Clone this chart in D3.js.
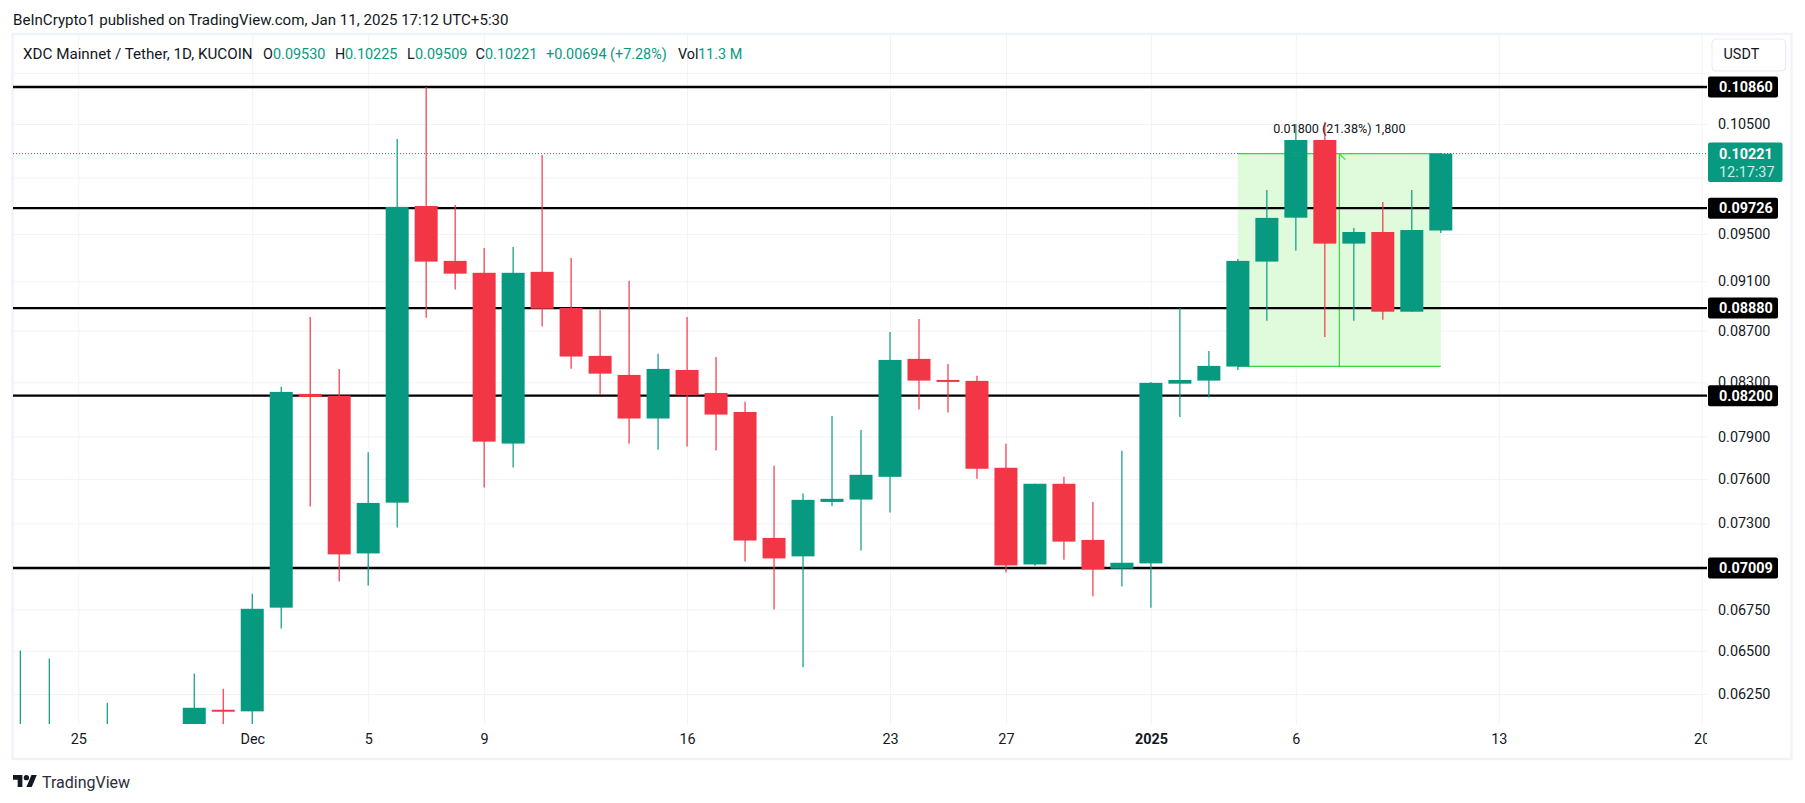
<!DOCTYPE html>
<html>
<head>
<meta charset="utf-8">
<script src="https://cdn.jsdelivr.net/npm/d3@7"></script>
<style>
  html, body { margin: 0; padding: 0; background: #fff; overflow: hidden; }
  svg { display: block; }
  text { font-family: Roboto, sans-serif; fill: #131722; }
</style>
</head>
<body>
<div id="chart"></div>
<script>
// candles
const days = ["2024-11-23","2024-11-24","2024-11-26","2024-11-29","2024-11-30","2024-12-01","2024-12-02","2024-12-03","2024-12-04","2024-12-05","2024-12-06","2024-12-07","2024-12-08","2024-12-09","2024-12-10","2024-12-11","2024-12-12","2024-12-13","2024-12-14","2024-12-15","2024-12-16","2024-12-17","2024-12-18","2024-12-19","2024-12-20","2024-12-21","2024-12-22","2024-12-23","2024-12-24","2024-12-25","2024-12-26","2024-12-27","2024-12-28","2024-12-29","2024-12-30","2024-12-31","2025-01-01","2025-01-02","2025-01-03","2025-01-04","2025-01-05","2025-01-06","2025-01-07","2025-01-08","2025-01-09","2025-01-10","2025-01-11"]
const opens = [.0590,.0590,.0590,.0602,.06161,.06152,.06761,.08213,.08199,.07103,.07439,.09745,.0927,.0917,.0785,.09178,.08881,.08502,.08356,.08031,.08394,.0822,.08079,.07204,.07084,.07444,.0746,.07616,.08479,.08318,.08311,.07679,.07032,.07568,.07191,.07005,.07039,.0829,.08313,.0842,.09264,.09642,.10348,.09417,.09517,.08851,.0953]
const highs = [.06502,.06455,.06201,.06367,.0628,.06847,.08266,.08809,.08402,.07789,.10358,.1086,.09754,.0938,.09388,.10209,.09295,.08865,.09103,.08518,.08809,.08494,.08154,.07693,.07501,.0805,.07948,.08689,.08793,.0844,.08349,.07848,.07568,.07616,.07444,.07799,.08303,.08881,.08541,.09287,.09888,.105,.10519,.09552,.09781,.09888,.10225]
const lows = [.0585,.0585,.0585,.0598,.0602,.0605,.06634,.07413,.06924,.06899,.07272,.08803,.09031,.07542,.07681,.08732,.08404,.08208,.07848,.07806,.07829,.07801,.07051,.06749,.06404,.07417,.07122,.07372,.08097,.08075,.07602,.06981,.07024,.07063,.06831,.06892,.06761,.08042,.08186,.08394,.08779,.09357,.0865,.08779,.08787,.08851,.09509]
const closes = [.0600,.0600,.0600,.06172,.0615,.06754,.08228,.0819,.07097,.07437,.09737,.09264,.09163,.07864,.0917,.08875,.08497,.08366,.08031,.08402,.08206,.0806,.07187,.07071,.07458,.07465,.0763,.08471,.08313,.08303,.07672,.07026,.07568,.0718,.07,.07043,.08296,.08318,.08425,.0927,.0964,.10348,.09417,.09517,.08851,.09534,.10221]

const levels = [0.1086, 0.09726, 0.0888, 0.082, 0.07009]
const gridPrices = [0.11, 0.105, 0.1, 0.095, 0.091, 0.087, 0.083, 0.079, 0.076, 0.073, 0.07, 0.0675, 0.065, 0.0625]
const labelPrices = [0.105, 0.095, 0.091, 0.087, 0.083, 0.079, 0.076, 0.073, 0.0675, 0.065, 0.0625]
const tickDays = ["2024-11-25","2024-12-01","2024-12-05","2024-12-09","2024-12-16","2024-12-23","2024-12-27","2025-01-01","2025-01-06","2025-01-13","2025-01-20"]
const tickNames = ["25","Dec","5","9","16","23","27","2025","6","13","20"]

const lastPrice = 0.10221
const measureFrom = "2025-01-04", measureTo = "2025-01-11"
const measureLow = 0.08421, measureHigh = 0.10221

const legendBits = [
  { x: 263, s: "O", c: "#131722" }, { x: 273, s: "0.09530", c: "#089981" },
  { x: 335, s: "H", c: "#131722" }, { x: 345, s: "0.10225", c: "#089981" },
  { x: 407, s: "L", c: "#131722" }, { x: 415, s: "0.09509", c: "#089981" },
  { x: 475.5, s: "C", c: "#131722" }, { x: 485, s: "0.10221", c: "#089981" },
  { x: 546, s: "+0.00694 (+7.28%)", c: "#089981" },
  { x: 678, s: "Vol", c: "#131722" }, { x: 698, s: "11.3 M", c: "#089981" }
]

const up = "#089981", down = "#f23645"
const gridColor = "#f0f3fa"
const parseDay = d3.utcParse("%Y-%m-%d")

const paneLeft = 13, paneRight = 1707, paneTop = 35, paneBottom = 724

const svg = d3.select("#chart").append("svg")
  .attr("width", 1805)
  .attr("height", 803)

svg.append("clipPath").attr("id", "pane").append("rect")
  .attr("x", paneLeft).attr("y", paneTop).attr("width", paneRight - paneLeft).attr("height", paneBottom - paneTop)
svg.append("clipPath").attr("id", "timeStrip").append("rect")
  .attr("x", paneLeft).attr("y", paneBottom).attr("width", paneRight - paneLeft).attr("height", 34)

const x = d3.scaleUtc()
  .domain([parseDay("2024-11-25"), parseDay("2025-01-20")])
  .range([78.3, 1701.7])

const y = d3.scaleLog()
  .domain([0.0625, 0.105])
  .range([694, 124])

// header
svg.append("text").attr("x", 13).attr("y", 25)
  .style("font-size", "15.1px")
  .text("BeInCrypto1 published on TradingView.com, Jan 11, 2025 17:12 UTC+5:30")

// frame
svg.append("rect")
  .attr("x", 12.5).attr("y", 34).attr("width", 1779).attr("height", 725)
  .attr("fill", "#fff").attr("stroke", gridColor).attr("stroke-width", 2.5)

const pane = svg.append("g").attr("clip-path", "url(#pane)")

// grid comes from the axes with long ticks
const gridY = pane.append("g")
  .attr("transform", `translate(${paneRight},0)`)
  .call(d3.axisLeft(y).tickValues(gridPrices).tickSize(paneRight - paneLeft).tickFormat(""))
gridY.select(".domain").remove()
gridY.selectAll("line").attr("stroke", gridColor)

const gridX = pane.append("g")
  .attr("transform", `translate(0,${paneBottom})`)
  .call(d3.axisTop(x).tickValues(tickDays.map(parseDay)).tickSize(paneBottom - paneTop).tickFormat(""))
gridX.select(".domain").remove()
gridX.selectAll("line").attr("stroke", gridColor)

// measure tool box, under the candles
const mx0 = x(parseDay(measureFrom)), mx1 = x(parseDay(measureTo))
const mxMid = (mx0 + mx1) / 2
pane.append("rect")
  .attr("x", mx0).attr("y", y(measureHigh))
  .attr("width", mx1 - mx0).attr("height", y(measureLow) - y(measureHigh))
  .attr("fill", "#dffbdc")

// last price dots
pane.append("line")
  .attr("x1", paneLeft).attr("x2", paneRight)
  .attr("y1", y(lastPrice)).attr("y2", y(lastPrice))
  .attr("stroke", up).attr("stroke-width", 1).attr("stroke-dasharray", "1 2")

// measure outline
const measureLines = [
  [mx0, y(measureHigh), mx1, y(measureHigh)],
  [mx0, y(measureLow), mx1, y(measureLow)],
  [mxMid, y(measureLow), mxMid, y(measureHigh)],
  [mxMid, y(measureHigh), mxMid + 6, y(measureHigh) + 6]
]
pane.selectAll(".measure")
  .data(measureLines)
  .enter()
  .append("line")
  .attr("class", "measure")
  .attr("x1", d => d[0]).attr("y1", d => d[1])
  .attr("x2", d => d[2]).attr("y2", d => d[3])
  .attr("stroke", "#3ed43a").attr("stroke-width", 1.2)

// horizontal levels
pane.selectAll(".level")
  .data(levels)
  .enter()
  .append("line")
  .attr("class", "level")
  .attr("x1", paneLeft).attr("x2", paneRight)
  .attr("y1", d => y(d)).attr("y2", d => y(d))
  .attr("stroke", "#000").attr("stroke-width", 2.4)

// candles
const candles = days.map((d, i) => ({
  day: parseDay(d), open: opens[i], high: highs[i], low: lows[i], close: closes[i]
}))
const colour = d => d.close >= d.open ? up : down

pane.selectAll(".wick")
  .data(candles)
  .enter()
  .append("line")
  .attr("class", "wick")
  .attr("x1", d => x(d.day)).attr("x2", d => x(d.day))
  .attr("y1", d => y(d.high)).attr("y2", d => y(d.low))
  .attr("stroke", colour).attr("stroke-width", 1.2)

pane.selectAll(".body")
  .data(candles)
  .enter()
  .append("rect")
  .attr("class", "body")
  .attr("x", d => x(d.day) - 11.5)
  .attr("width", 23)
  .attr("y", d => y(Math.max(d.open, d.close)))
  .attr("height", d => Math.abs(y(d.open) - y(d.close)))
  .attr("fill", colour)

pane.append("text")
  .attr("x", mxMid).attr("y", y(measureHigh) - 21)
  .attr("text-anchor", "middle")
  .style("font-size", "12.6px")
  .text("0.01800 (21.38%) 1,800")

// legend line
svg.append("text").attr("x", 23).attr("y", 59)
  .style("font-size", "15.2px")
  .text("XDC Mainnet / Tether, 1D, KUCOIN")

svg.selectAll(".legendBit")
  .data(legendBits)
  .enter()
  .append("text")
  .attr("class", "legendBit")
  .attr("x", d => d.x).attr("y", 59)
  .style("font-size", "14.4px")
  .style("fill", d => d.c)
  .text(d => d.s)

// price axis
const priceAxis = svg.append("g")
  .attr("transform", `translate(${paneRight},0)`)
  .call(d3.axisRight(y).tickValues(labelPrices).tickSize(0).tickPadding(11).tickFormat(d3.format(".5f")))
priceAxis.select(".domain").remove()
priceAxis.selectAll("text")
  .style("font-size", "14.4px")
  .style("font-family", "Roboto, sans-serif")
  .style("fill", "#131722")

// level tags
const tags = svg.selectAll(".tag")
  .data(levels)
  .enter()
  .append("g")
  .attr("class", "tag")
  .attr("transform", d => `translate(1708,${y(d)})`)
tags.append("rect")
  .attr("x", 0).attr("y", -10.5).attr("width", 70).attr("height", 21).attr("rx", 2)
  .attr("fill", "#000")
tags.append("text")
  .attr("x", 11).attr("y", 5)
  .style("font-size", "14.4px").style("font-weight", "700").style("fill", "#fff")
  .text(d => d3.format(".5f")(d))

// last price tag with countdown
const lastTag = svg.append("g").attr("transform", `translate(1708,${y(lastPrice)})`)
lastTag.append("rect")
  .attr("x", 0).attr("y", -11).attr("width", 74.5).attr("height", 39.5).attr("rx", 2)
  .attr("fill", up)
lastTag.append("text").attr("x", 11).attr("y", 5)
  .style("font-size", "14.4px").style("font-weight", "700").style("fill", "#fff")
  .text(d3.format(".5f")(lastPrice))
lastTag.append("text").attr("x", 11).attr("y", 23)
  .style("font-size", "14.4px").style("fill", "#fff").style("opacity", 0.8)
  .text("12:17:37")

// currency button
svg.append("rect")
  .attr("x", 1712).attr("y", 39).attr("width", 73.5).attr("height", 32).attr("rx", 4)
  .attr("fill", "#fff").attr("stroke", "#e6e9f0")
svg.append("text").attr("x", 1723.5).attr("y", 59)
  .style("font-size", "14.4px")
  .text("USDT")

// time axis
const timeAxis = svg.append("g")
  .attr("clip-path", "url(#timeStrip)")
  .append("g")
  .attr("transform", `translate(0,${paneBottom})`)
  .call(d3.axisBottom(x)
    .tickValues(tickDays.map(parseDay))
    .tickSize(0).tickPadding(10)
    .tickFormat((d, i) => tickNames[i]))
timeAxis.select(".domain").remove()
timeAxis.selectAll("text")
  .style("font-size", "14.4px")
  .style("font-family", "Roboto, sans-serif")
  .style("fill", "#131722")
  .style("font-weight", (d, i) => tickNames[i] === "2025" ? "700" : "400")

// TradingView mark
const logo = svg.append("g").attr("transform", "translate(13,772.3) scale(0.67)")
logo.append("path").attr("d", "M14 22H7V11H0V4h14v18zM28 22h-8l7.5-18h8L28 22z").attr("fill", "#131722")
logo.append("circle").attr("cx", 20).attr("cy", 8).attr("r", 4).attr("fill", "#131722")
svg.append("text").attr("x", 42).attr("y", 787.5)
  .style("font-size", "16px").style("fill", "#2a2e39")
  .text("TradingView")
</script>
</body>
</html>
